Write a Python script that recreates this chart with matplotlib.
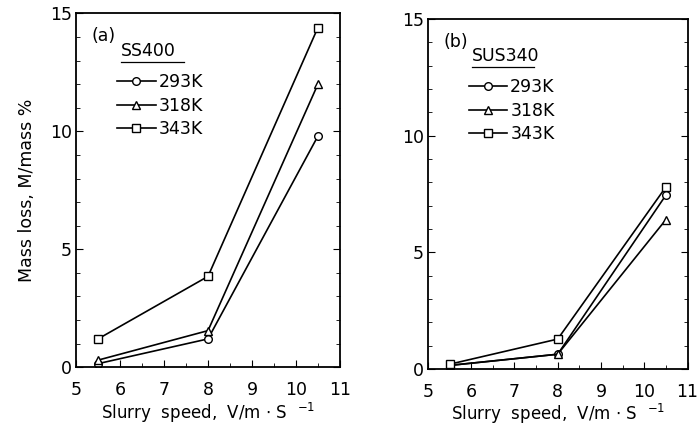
import matplotlib.pyplot as plt
from matplotlib.ticker import MultipleLocator
from matplotlib.lines import Line2D

# slurry speed, V / m s^-1
speed = [5.5, 8.0, 10.5]
temps = ['293K', '318K', '343K']
markers = ['o', '^', 's']

# mass loss, %
ss400 = {
    '293K': [0.15, 1.2, 9.8],
    '318K': [0.3, 1.55, 12.0],
    '343K': [1.2, 3.85, 14.4],
}
sus340 = {
    '293K': [0.15, 0.63, 7.45],
    '318K': [0.15, 0.63, 6.4],
    '343K': [0.2, 1.28, 7.8],
}

plt.rcParams['font.family'] = ['DejaVu Sans']

fig = plt.figure(figsize=(6.98, 4.32), dpi=100)
ax1 = fig.add_axes([0.109, 0.150, 0.378, 0.819])
ax2 = fig.add_axes([0.613, 0.146, 0.372, 0.810])


def draw_panel(ax, data, tag, steel):
    for t, m in zip(temps, markers):
        ax.plot(speed, data[t], color='black', lw=1.2, marker=m, ms=5.5,
                mfc='white', mec='black', mew=1.0, label=t)
    ax.set_xlim(5, 11)
    ax.set_ylim(0, 15)
    ax.xaxis.set_major_locator(MultipleLocator(1))
    ax.xaxis.set_minor_locator(MultipleLocator(0.5))
    ax.yaxis.set_major_locator(MultipleLocator(5))
    ax.yaxis.set_minor_locator(MultipleLocator(1))
    ax.tick_params(which='both', direction='in', right=True, labelsize=12.5)
    ax.tick_params(axis='x', which='major', pad=10, length=5)
    ax.tick_params(axis='y', which='major', pad=3, length=5)
    ax.tick_params(which='minor', length=3)
    for s in ax.spines.values():
        s.set_linewidth(1.3)
    ax.set_xlabel('Slurry  speed,  V/m $\\cdot$ S  $^{-1}$', fontsize=12,
                  labelpad=1)
    ax.text(0.06, 0.935, tag, transform=ax.transAxes, fontsize=12.5,
            va='center', ha='left')
    ax.text(0.17, 0.893, steel, transform=ax.transAxes, fontsize=12.5,
            va='center', ha='left')
    ax.add_line(Line2D([0.17, 0.41], [0.862, 0.862], transform=ax.transAxes,
                       color='black', lw=0.9))
    leg = ax.legend(loc='upper left', bbox_to_anchor=(0.13, 0.85),
                    frameon=False, numpoints=1, handlelength=2.2,
                    handletextpad=0.2, labelspacing=0.3, fontsize=12.5,
                    borderaxespad=0)
    return leg


draw_panel(ax1, ss400, '(a)', 'SS400')
draw_panel(ax2, sus340, '(b)', 'SUS340')
ax1.set_ylabel('Mass loss, M/mass %', fontsize=12.5, labelpad=10)

fig.savefig('out.png', dpi=100)
